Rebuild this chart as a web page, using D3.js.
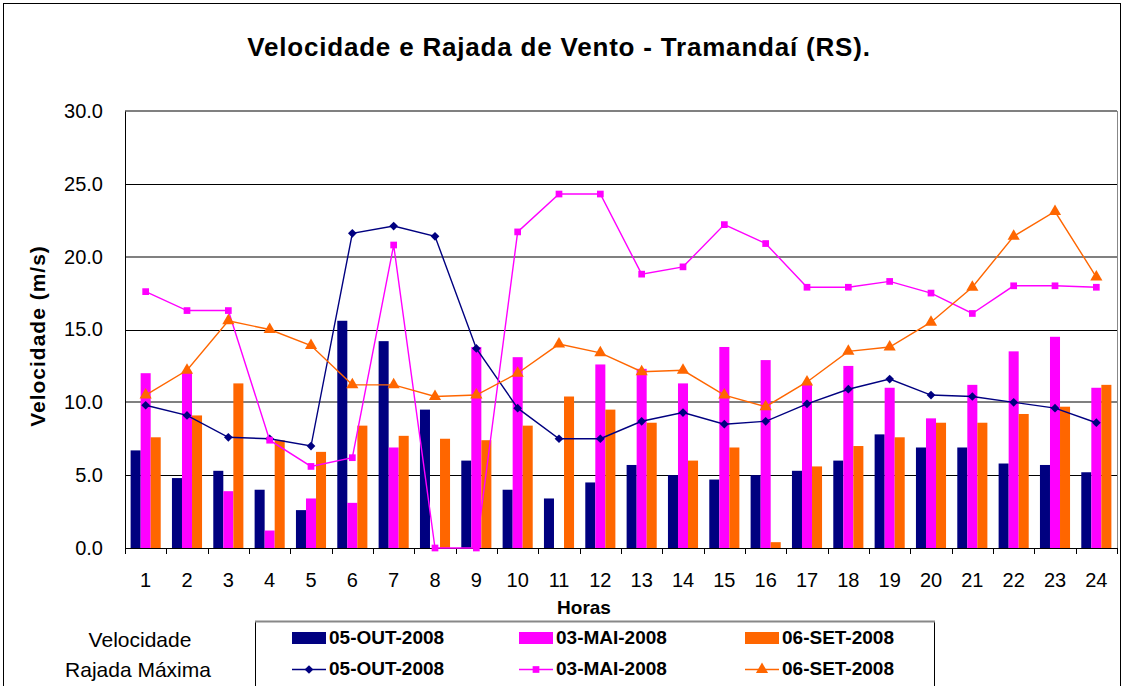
<!DOCTYPE html>
<html>
<head>
<meta charset="utf-8">
<script src="https://cdn.jsdelivr.net/npm/d3@7"></script>
<style>
  body { margin: 0; background: #fff; }
  text { font-family: "Liberation Sans", Arial, sans-serif; }
</style>
</head>
<body>
<script>
// data
const hours = d3.range(1, 25).map(String);
const seriesNames = ['05-OUT-2008', '03-MAI-2008', '06-SET-2008'];
const colors = ['#000080', '#FF00FF', '#FF6600'];

// Velocidade (bars)
const velOut = [6.7, 4.8, 5.3, 4.0, 2.6, 15.6, 14.2, 9.5, 6.0, 4.0, 3.4, 4.5, 5.7, 5.0, 4.7, 5.0, 5.3, 6.0, 7.8, 6.9, 6.9, 5.8, 5.7, 5.2];
const velMai = [12.0, 12.1, 3.9, 1.2, 3.4, 3.1, 6.9, 0.0, 13.8, 13.1, 0.0, 12.6, 12.3, 11.3, 13.8, 12.9, 11.3, 12.5, 11.0, 8.9, 11.2, 13.5, 14.5, 11.0];
const velSet = [7.6, 9.1, 11.3, 7.4, 6.6, 8.4, 7.7, 7.5, 7.4, 8.4, 10.4, 9.5, 8.6, 6.0, 6.9, 0.4, 5.6, 7.0, 7.6, 8.6, 8.6, 9.2, 9.7, 11.2];

// Rajada Máxima (lines)
const rajOut = [9.8, 9.1, 7.6, 7.5, 7.0, 21.6, 22.1, 21.4, 13.7, 9.6, 7.5, 7.5, 8.7, 9.3, 8.5, 8.7, 9.9, 10.9, 11.6, 10.5, 10.4, 10.0, 9.6, 8.6];
const rajMai = [17.6, 16.3, 16.3, 7.4, 5.6, 6.2, 20.8, 0.0, 0.0, 21.7, 24.3, 24.3, 18.8, 19.3, 22.2, 20.9, 17.9, 17.9, 18.3, 17.5, 16.1, 18.0, 18.0, 17.9];
const rajSet = [10.5, 12.2, 15.6, 15.0, 13.9, 11.2, 11.2, 10.4, 10.5, 12.0, 14.0, 13.4, 12.1, 12.2, 10.5, 9.7, 11.4, 13.5, 13.8, 15.5, 17.9, 21.4, 23.1, 18.6];

const yTicks = [0, 5, 10, 15, 20, 25, 30];

const velocidade = [velOut, velMai, velSet];
const rajada = [rajOut, rajMai, rajSet];

const W = 1123, H = 686;
const margin = { top: 111, left: 125, right: 6, bottom: 138 };
const width = W - margin.left - margin.right,
      height = H - margin.top - margin.bottom;

const svg = d3.select('body').append('svg')
    .attr('width', W)
    .attr('height', H);

// outer chart border
svg.append('rect')
    .attr('x', 3.5).attr('y', 3.5)
    .attr('width', W - 6).attr('height', H)
    .attr('fill', 'none')
    .attr('stroke', '#000');

// title
svg.append('text')
    .attr('x', 559).attr('y', 56)
    .attr('text-anchor', 'middle')
    .attr('font-size', '26px')
    .attr('font-weight', 'bold')
    .attr('letter-spacing', '0.8px')
    .text('Velocidade e Rajada de Vento - Tramandaí (RS).');

const g = svg.append('g')
    .attr('transform', 'translate(' + margin.left + ', ' + margin.top + ')');

// scales
const x0 = d3.scaleBand()
    .domain(hours)
    .range([0, width]);

const x1 = d3.scaleBand()
    .domain(seriesNames)
    .range([0, x0.bandwidth()])
    .paddingOuter(0.56);

const y = d3.scaleLinear()
    .domain([0, 30])
    .range([height, 0]);

// gridlines (every other one comes out grey and soft in the original)
g.append('g')
    .selectAll('line')
    .data(yTicks.slice(1))
    .enter()
    .append('line')
        .attr('x1', 0).attr('x2', width)
        .attr('y1', d => d % 10 === 0 ? Math.round(y(d)) : Math.round(y(d)) + 0.5)
        .attr('y2', d => d % 10 === 0 ? Math.round(y(d)) : Math.round(y(d)) + 0.5)
        .attr('stroke', d => d % 10 === 0 ? '#808080' : '#000')
        .attr('stroke-width', d => d % 10 === 0 ? 2 : 1);

// right plot border
g.append('line')
    .attr('x1', width + 0.5).attr('x2', width + 0.5)
    .attr('y1', 0).attr('y2', height)
    .attr('stroke', '#888');

// bars
seriesNames.forEach((s, si) => {
    g.append('g')
        .selectAll('rect')
        .data(velocidade[si])
        .enter()
        .append('rect')
            .attr('x', (d, i) => x0(hours[i]) + x1(s))
            .attr('y', d => y(d))
            .attr('width', x1.bandwidth())
            .attr('height', d => height - y(d))
            .attr('fill', colors[si]);
});

// axes
const axisLeft = d3.axisLeft(y)
    .tickValues(yTicks)
    .tickSize(0)
    .tickPadding(22)
    .tickFormat(d3.format('.1f'));
g.append('g')
    .attr('class', 'axis-left')
    .call(axisLeft)
    .call(a => a.select('.domain').attr('stroke', '#000'))
    .selectAll('text')
        .attr('font-size', '20px')
        .attr('font-family', '"Liberation Sans", Arial, sans-serif')
        .attr('fill', '#000');

const axisBottom = d3.axisBottom(x0)
    .tickSize(0)
    .tickPadding(25);
g.append('g')
    .attr('class', 'axis-bottom')
    .attr('transform', 'translate(0, ' + height + ')')
    .call(axisBottom)
    .call(a => a.select('.domain').attr('stroke', '#000'))
    .selectAll('text')
        .attr('font-size', '20px')
        .attr('font-family', '"Liberation Sans", Arial, sans-serif')
        .attr('fill', '#000');

// x tick marks at category boundaries
g.append('g')
    .selectAll('line')
    .data(hours.concat(['end']))
    .enter()
    .append('line')
        .attr('x1', (d, i) => Math.round(i * x0.step()) + 0.5)
        .attr('x2', (d, i) => Math.round(i * x0.step()) + 0.5)
        .attr('y1', height)
        .attr('y2', height + 6)
        .attr('stroke', '#000');

// markers: excel-style diamond is a square turned 45 degrees
const markers = [d3.symbolSquare, d3.symbolSquare, d3.symbolTriangle];
const markerSizes = [38, 45, 64];
const markerRot = [45, 0, 0];

// lines
seriesNames.forEach((s, si) => {
    const cx = (d, i) => x0(hours[i]) + x0.bandwidth() / 2;
    const line = d3.line()
        .x(cx)
        .y(d => y(d));
    g.append('path')
        .datum(rajada[si])
        .attr('d', line)
        .attr('fill', 'none')
        .attr('stroke', colors[si])
        .attr('stroke-width', 1.4);
    g.append('g')
        .selectAll('path')
        .data(rajada[si])
        .enter()
        .append('path')
            .attr('transform', (d, i) => 'translate(' + cx(d, i) + ',' + y(d) + ') rotate(' + markerRot[si] + ')')
            .attr('d', d3.symbol().type(markers[si]).size(markerSizes[si]))
            .attr('fill', colors[si]);
});

// axis titles
svg.append('text')
    .attr('x', -336)
    .attr('y', 45)
    .attr('transform', 'rotate(-90)')
    .attr('text-anchor', 'middle')
    .attr('font-size', '21px')
    .attr('font-weight', 'bold')
    .attr('letter-spacing', '1px')
    .text('Velocidade (m/s)');

svg.append('text')
    .attr('x', 584)
    .attr('y', 614)
    .attr('text-anchor', 'middle')
    .attr('font-size', '19px')
    .attr('font-weight', 'bold')
    .text('Horas');

// legend
const legend = svg.append('g');
legend.append('rect')
    .attr('x', 255.5).attr('y', 621.5)
    .attr('width', 679).attr('height', 80)
    .attr('fill', '#fff')
    .attr('stroke', '#000');
legend.append('line')
    .attr('x1', 255).attr('x2', 935)
    .attr('y1', 621.5).attr('y2', 621.5)
    .attr('stroke', '#888')
    .attr('stroke-width', 2);

legend.append('text')
    .attr('x', 140).attr('y', 647)
    .attr('text-anchor', 'middle')
    .attr('font-size', '21px')
    .text('Velocidade');
legend.append('text')
    .attr('x', 138).attr('y', 677)
    .attr('text-anchor', 'middle')
    .attr('font-size', '21px')
    .text('Rajada Máxima');

const legendX = [292, 519, 745];
seriesNames.forEach((s, si) => {
    const lx = legendX[si];
    legend.append('rect')
        .attr('x', lx).attr('y', 632)
        .attr('width', 34).attr('height', 12)
        .attr('fill', colors[si]);
    legend.append('text')
        .attr('x', lx + 37).attr('y', 644)
        .attr('font-size', '19px')
        .attr('font-weight', 'bold')
        .text(s);
    legend.append('line')
        .attr('x1', lx).attr('x2', lx + 34)
        .attr('y1', 669.5).attr('y2', 669.5)
        .attr('stroke', colors[si])
        .attr('stroke-width', 1.4);
    legend.append('path')
        .attr('transform', 'translate(' + (lx + 17) + ',669.5) rotate(' + markerRot[si] + ')')
        .attr('d', d3.symbol().type(markers[si]).size(markerSizes[si]))
        .attr('fill', colors[si]);
    legend.append('text')
        .attr('x', lx + 37).attr('y', 675)
        .attr('font-size', '19px')
        .attr('font-weight', 'bold')
        .text(s);
});
</script>
</body>
</html>
